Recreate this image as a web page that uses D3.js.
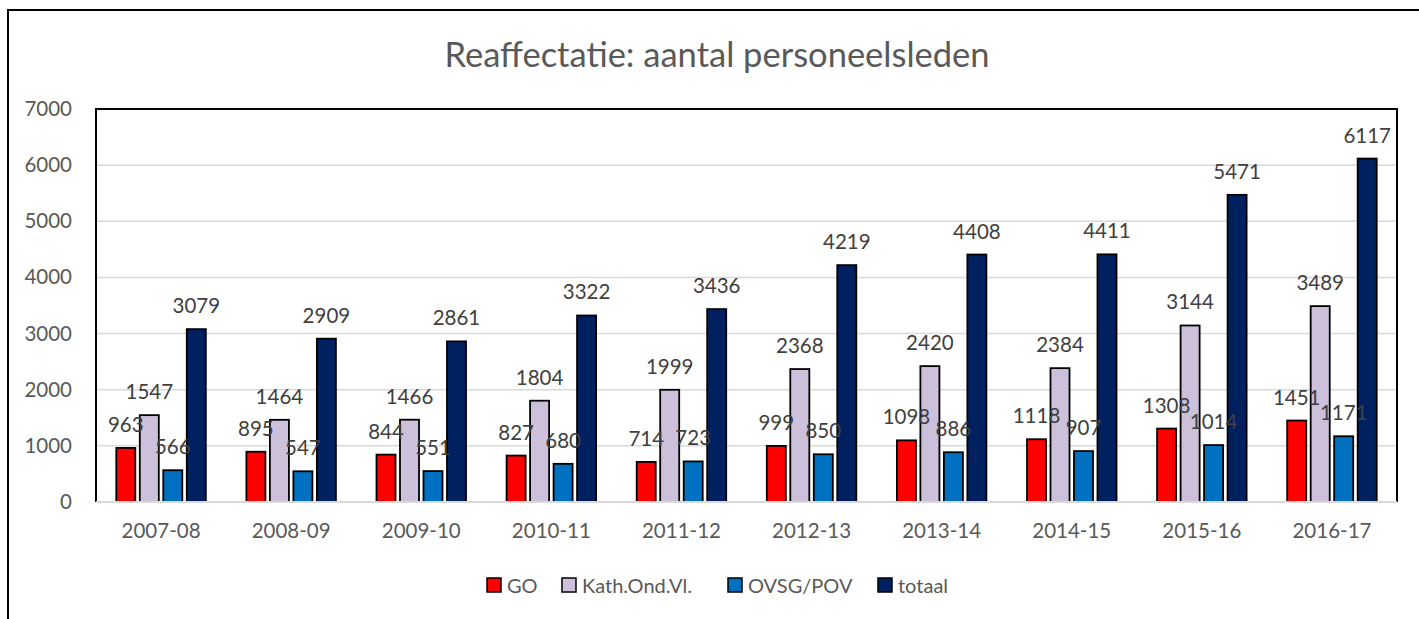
<!DOCTYPE html>
<html>
<head>
<meta charset="utf-8">
<script src="https://cdn.jsdelivr.net/npm/d3@7"></script>
<style>
  body { margin: 0; background: #fff; }
  svg { font-family: Lato, "Open Sans", sans-serif; }
</style>
</head>
<body>
<div id="chart"></div>
<script>
const years = ["2007-08", "2008-09", "2009-10", "2010-11", "2011-12", "2012-13", "2013-14", "2014-15", "2015-16", "2016-17"];
const seriesNames = ["GO", "Kath.Ond.Vl.", "OVSG/POV", "totaal"];
const go = [963, 895, 844, 827, 714, 999, 1098, 1118, 1308, 1451];
const kath = [1547, 1464, 1466, 1804, 1999, 2368, 2420, 2384, 3144, 3489];
const ovsg = [566, 547, 551, 680, 723, 850, 886, 907, 1014, 1171];
const totaal = [3079, 2909, 2861, 3322, 3436, 4219, 4408, 4411, 5471, 6117];
const yTicks = [0, 1000, 2000, 3000, 4000, 5000, 6000, 7000];
const colors = ["#ff0000", "#ccc0da", "#0070c0", "#002060"];

const series = [go, kath, ovsg, totaal];
const width = 1419, height = 619;
const margin = { top: 109, right: 22, bottom: 117, left: 96 };

const svg = d3.select("#chart").append("svg")
    .attr("width", width)
    .attr("height", height);

// outer chart border
svg.append("rect")
    .attr("x", 8).attr("y", 10)
    .attr("width", width + 10).attr("height", height + 10)
    .attr("fill", "none")
    .attr("stroke", "#000")
    .attr("stroke-width", 2);

svg.append("text")
    .attr("x", 717)
    .attr("y", 67)
    .attr("text-anchor", "middle")
    .attr("font-size", 34.5)
    .attr("fill", "#595959")
    .text("Reaffectatie: aantal personeelsleden");

const x0 = d3.scaleBand()
    .domain(years)
    .range([margin.left, width - margin.right])
    .paddingInner(0.312)
    .paddingOuter(0.156);

const x1 = d3.scaleBand()
    .domain(d3.range(series.length))
    .range([0, x0.bandwidth()])
    .paddingInner(0.19);

const y = d3.scaleLinear()
    .domain([0, 7000])
    .range([height - margin.bottom, margin.top]);

// gridlines
svg.append("g")
    .selectAll("line")
    .data(yTicks)
    .join("line")
    .attr("x1", margin.left)
    .attr("x2", width - margin.right)
    .attr("y1", d => y(d))
    .attr("y2", d => y(d))
    .attr("stroke", "#d9d9d9")
    .attr("stroke-width", 1.5);

// y axis labels
const yAxis = svg.append("g")
    .attr("transform", `translate(${margin.left}, 0)`)
    .call(d3.axisLeft(y).tickValues(yTicks).tickFormat(d3.format("d")).tickSize(0).tickPadding(24));
yAxis.select(".domain").remove();
yAxis.selectAll("text")
    .attr("font-size", 20.5)
    .attr("font-family", "Lato, sans-serif")
    .attr("fill", "#595959");

// x axis labels
const xAxis = svg.append("g")
    .attr("transform", `translate(0, ${height - margin.bottom})`)
    .call(d3.axisBottom(x0).tickSize(0).tickPadding(21));
xAxis.select(".domain").remove();
xAxis.selectAll("text")
    .attr("font-size", 20.5)
    .attr("font-family", "Lato, sans-serif")
    .attr("fill", "#595959");

// bars
const groups = svg.append("g")
    .selectAll("g")
    .data(years)
    .join("g")
    .attr("transform", d => `translate(${x0(d)}, 0)`);

groups.selectAll("rect")
    .data((d, i) => series.map((s, k) => ({ k, v: s[i] })))
    .join("rect")
    .attr("x", d => x1(d.k))
    .attr("y", d => y(d.v))
    .attr("width", x1.bandwidth())
    .attr("height", d => y(0) - y(d.v))
    .attr("fill", d => colors[d.k])
    .attr("stroke", "#000")
    .attr("stroke-width", 1.8);

groups.selectAll("text")
    .data((d, i) => series.map((s, k) => ({ k, v: s[i] })))
    .join("text")
    .attr("x", d => x1(d.k) + x1.bandwidth() / 2)
    .attr("y", d => y(d.v) - 16)
    .attr("text-anchor", "middle")
    .attr("font-size", 20.5)
    .attr("fill", "#404040")
    .text(d => d.v);

// plot area border: black left/top/right, gray baseline
const pl = margin.left, pr = width - margin.right, pt = margin.top, pb = height - margin.bottom;
svg.append("path")
    .attr("d", `M${pl},${pb} V${pt} H${pr} V${pb}`)
    .attr("fill", "none")
    .attr("stroke", "#000")
    .attr("stroke-width", 2);
svg.append("line")
    .attr("x1", pl).attr("x2", pr)
    .attr("y1", pb).attr("y2", pb)
    .attr("stroke", "#d9d9d9")
    .attr("stroke-width", 2);

// legend
const legendX = [487, 562, 728, 878];
const legend = svg.append("g")
    .selectAll("g")
    .data(seriesNames)
    .join("g")
    .attr("transform", (d, i) => `translate(${legendX[i]}, 578)`);
legend.append("rect")
    .attr("width", 14).attr("height", 14)
    .attr("fill", (d, i) => colors[i])
    .attr("stroke", "#000")
    .attr("stroke-width", 1.5);
legend.append("text")
    .attr("x", 20)
    .attr("y", 15)
    .attr("font-size", 20)
    .attr("fill", "#595959")
    .text(d => d);
</script>
</body>
</html>
